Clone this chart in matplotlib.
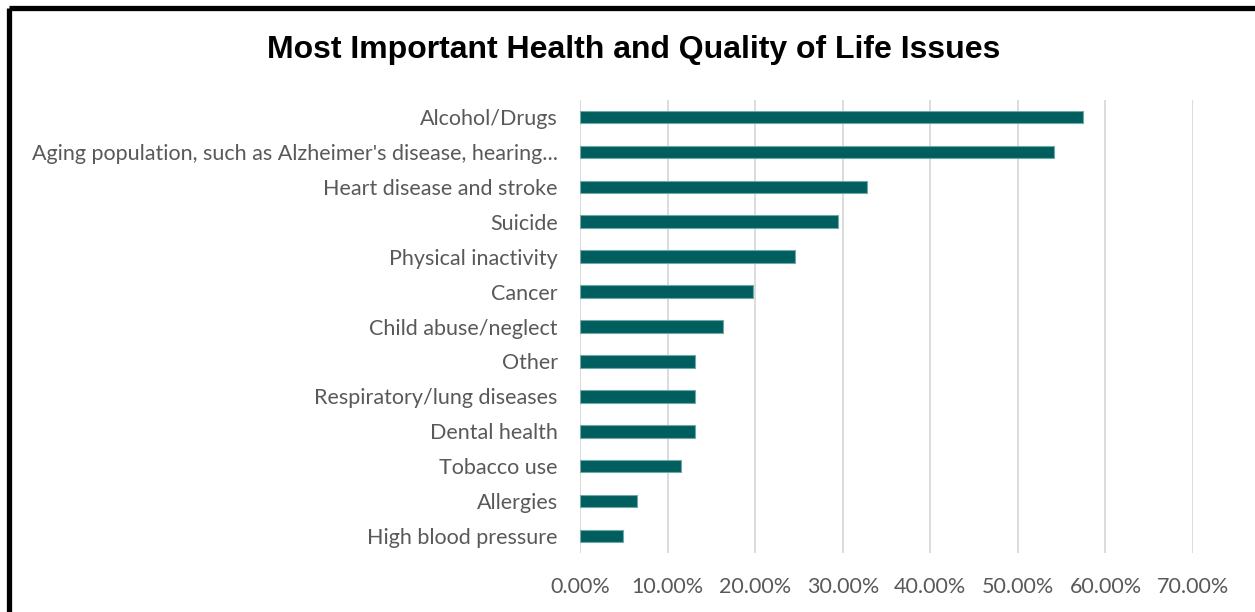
import matplotlib.pyplot as plt
from matplotlib.lines import Line2D
from matplotlib.ticker import PercentFormatter

# data, top to bottom as shown
categories = [
    "Alcohol/Drugs",
    "Aging population, such as Alzheimer's disease, hearing...",
    "Heart disease and stroke",
    "Suicide",
    "Physical inactivity",
    "Cancer",
    "Child abuse/neglect",
    "Other",
    "Respiratory/lung diseases",
    "Dental health",
    "Tobacco use",
    "Allergies",
    "High blood pressure",
]
values = [57.4, 54.1, 32.8, 29.5, 24.5, 19.7, 16.3, 13.1, 13.1, 13.1, 11.5, 6.5, 4.9]
xticks = [0, 10, 20, 30, 40, 50, 60, 70]

BAR = "#005f5e"
GRAY = "#595959"
LABEL_FONT = ["Lato", "DejaVu Sans"]

fig = plt.figure(figsize=(12.55, 6.12), dpi=100)
ax = fig.add_axes([0.4622, 0.0956, 0.4884, 0.7418])

ypos = list(range(len(categories)))[::-1]
ax.barh(ypos, values, height=0.36, color=BAR, edgecolor="#6fa8a6", linewidth=0.8, zorder=3)

ax.set_xlim(0, 70)
ax.set_ylim(-0.5, len(categories) - 0.5)
ax.set_xticks(xticks)
ax.xaxis.set_major_formatter(PercentFormatter(decimals=2))
ax.set_yticks(ypos)
ax.set_yticklabels(categories)
ax.grid(axis="x", color="#d9d9d9", linewidth=1.3, zorder=0)
for s in ax.spines.values():
    s.set_visible(False)
ax.tick_params(axis="both", length=0, colors=GRAY, labelsize=15.5)
ax.tick_params(axis="y", pad=16)
ax.tick_params(axis="x", pad=17)
for lab in ax.get_xticklabels() + ax.get_yticklabels():
    lab.set_family(LABEL_FONT)

fig.text(0.505, 0.918, "Most Important Health and Quality of Life Issues",
         ha="center", va="center", fontsize=23, fontweight="bold",
         family="Liberation Sans", color="black")

# outer frame (top and left edges visible in the crop)
fig.add_artist(Line2D([0.0075, 1.0], [0.9865, 0.9865], color="black", linewidth=3.8,
                      transform=fig.transFigure, solid_capstyle="butt"))
fig.add_artist(Line2D([0.0075, 0.0075], [0.0, 0.9865], color="black", linewidth=3.8,
                      transform=fig.transFigure, solid_capstyle="butt"))

fig.savefig("out.png", dpi=100)
